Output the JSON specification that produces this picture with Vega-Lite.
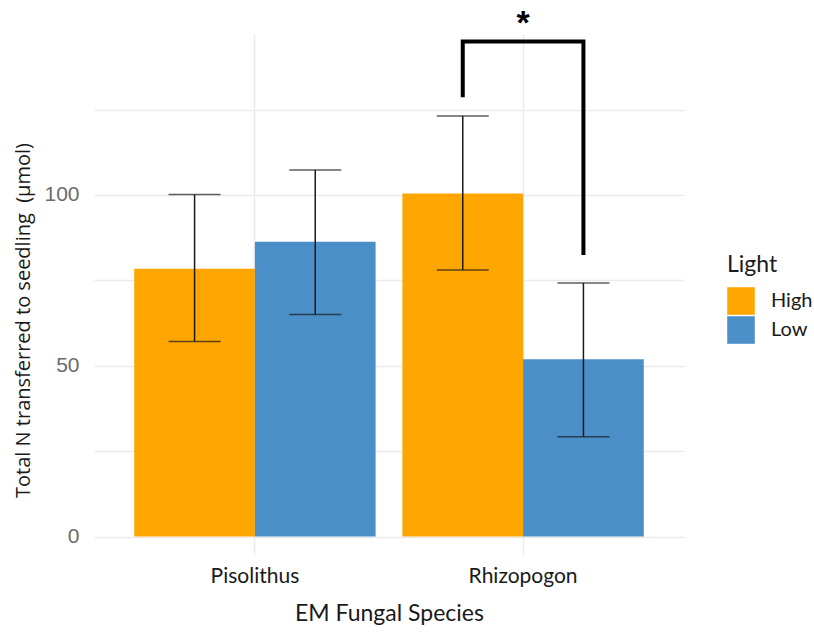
{
  "$schema": "https://vega.github.io/schema/vega-lite/v6.json",
  "width": 590,
  "height": 521,
  "autosize": "none",
  "padding": {"left": 94, "top": 34, "right": 130, "bottom": 77},
  "background": "white",
  "config": {
    "view": {"stroke": null},
    "font": "Lato",
    "axis": {"domain": false, "ticks": false, "gridColor": "#EBEBEB", "gridWidth": 1.5}
  },
  "datasets": {
    "bars": [
      {"Species": "Pisolithus", "Light": "High", "N": 78.4, "lo": 57.1, "hi": 100.1},
      {"Species": "Pisolithus", "Light": "Low", "N": 86.3, "lo": 65.0, "hi": 107.3},
      {"Species": "Rhizopogon", "Light": "High", "N": 100.4, "lo": 78.0, "hi": 123.1},
      {"Species": "Rhizopogon", "Light": "Low", "N": 51.9, "lo": 29.2, "hi": 74.2}
    ],
    "bracket": [
      {"Species": "Rhizopogon", "Light": "High", "N": 128.6, "seq": 1},
      {"Species": "Rhizopogon", "Light": "High", "N": 144.9, "seq": 2},
      {"Species": "Rhizopogon", "Light": "Low", "N": 144.9, "seq": 3},
      {"Species": "Rhizopogon", "Light": "Low", "N": 82.4, "seq": 4}
    ],
    "star": [{"Species": "Rhizopogon", "N": 151.7, "label": "*"}]
  },
  "encoding": {
    "x": {
      "field": "Species", "type": "nominal",
      "scale": {"domain": ["Pisolithus", "Rhizopogon"], "paddingInner": 0.1, "paddingOuter": 0.15},
      "axis": {"title": "EM Fungal Species", "labelAngle": 0, "labelFontSize": 21, "labelColor": "#1a1a1a", "labelPadding": 10, "titleFontSize": 23, "titleFontWeight": "normal", "titleColor": "#1a1a1a", "titlePadding": 16, "grid": true, "bandPosition": 0.5}
    },
    "y": {
      "field": "N", "type": "quantitative",
      "scale": {"domain": [-5.4, 147.1], "nice": false, "zero": false},
      "axis": {"title": "Total N transferred to seedling \u00a0(μmol)", "titleFont": "Open Sans", "titleY": 286, "values": [0, 25, 50, 75, 100, 125], "labelExpr": "datum.value % 50 === 0 ? datum.label : ''", "labelFont": "Liberation Sans", "labelFontSize": 21, "labelColor": "#6b6b6b", "labelPadding": 15, "titleFontSize": 20, "titleFontWeight": "normal", "titleColor": "#1a1a1a", "titlePadding": 10}
    }
  },
  "layer": [
    {
      "data": {"name": "bars"},
      "mark": {"type": "bar", "clip": false},
      "encoding": {
        "xOffset": {"field": "Light", "type": "nominal", "scale": {"domain": ["High", "Low"], "paddingInner": 0, "paddingOuter": 0}},
        "color": {
          "field": "Light", "type": "nominal",
          "scale": {"domain": ["High", "Low"], "range": ["#FFA500", "#4A8FC8"]},
          "legend": {"title": "Light", "orient": "none", "legendX": 633, "legendY": 220, "titleFontSize": 23, "titleFontWeight": "normal", "titleColor": "#1a1a1a", "labelFontSize": 20, "labelColor": "#1a1a1a", "symbolType": "square", "symbolSize": 760, "symbolStrokeWidth": 0, "rowPadding": 1, "labelOffset": 16, "titlePadding": 10}
        }
      }
    },
    {
      "data": {"name": "bars"},
      "mark": {"type": "rule", "color": "#1a1a1a", "strokeWidth": 1.5},
      "encoding": {
        "xOffset": {"field": "Light", "type": "nominal"},
        "y": {"field": "lo", "type": "quantitative"},
        "y2": {"field": "hi"}
      }
    },
    {
      "data": {"name": "bars"},
      "mark": {"type": "tick", "color": "#1a1a1a", "thickness": 1.5, "size": 52, "orient": "horizontal"},
      "encoding": {
        "xOffset": {"field": "Light", "type": "nominal"},
        "y": {"field": "lo", "type": "quantitative"}
      }
    },
    {
      "data": {"name": "bars"},
      "mark": {"type": "tick", "color": "#1a1a1a", "thickness": 1.5, "size": 52, "orient": "horizontal"},
      "encoding": {
        "xOffset": {"field": "Light", "type": "nominal"},
        "y": {"field": "hi", "type": "quantitative"}
      }
    },
    {
      "data": {"name": "bracket"},
      "mark": {"type": "line", "color": "black", "strokeWidth": 4, "strokeJoin": "miter", "clip": false},
      "encoding": {
        "xOffset": {"field": "Light", "type": "nominal"},
        "order": {"field": "seq", "type": "quantitative"}
      }
    },
    {
      "data": {"name": "star"},
      "mark": {"type": "text", "fontSize": 34, "fontWeight": "bold", "font": "Liberation Sans", "baseline": "middle", "dy": 6, "clip": false},
      "encoding": {
        "text": {"field": "label"}
      }
    }
  ]
}
